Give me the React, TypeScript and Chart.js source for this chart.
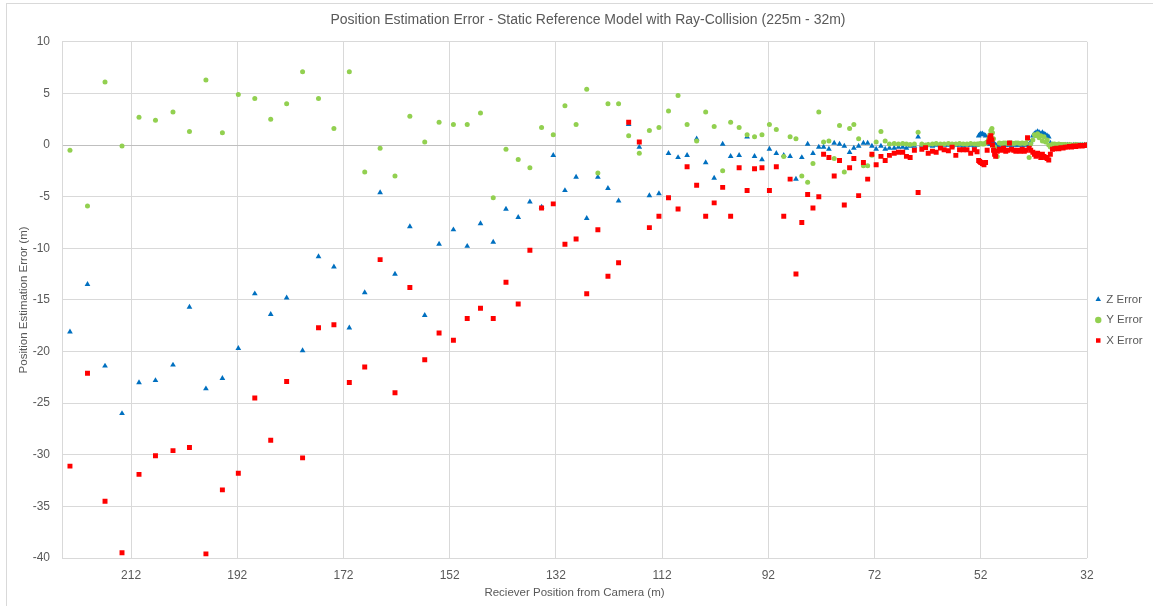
import React, { useEffect, useRef } from "react";
import { Chart, registerables } from "chart.js";

Chart.register(...registerables);

const FONT = "'Liberation Sans', Arial, sans-serif";
const TEXT_COLOR = "#595959";
const GRID_COLOR = "#d9d9d9";
const ZERO_COLOR = "#bfbfbf";

const CHART_TITLE = "Position Estimation Error - Static Reference Model with Ray-Collision (225m - 32m)";
const X_TITLE = "Reciever Position from Camera (m)";
const Y_TITLE = "Position Estimation Error (m)";
const SERIES_NAMES = ["Z Error", "Y Error", "X Error"];
const SERIES_COLORS = ["#0070C0", "#92D050", "#FF0000"];

const X_MIN = 32;
const X_MAX = 225;
const X_TICKS = [212, 192, 172, 152, 132, 112, 92, 72, 52, 32];
const Y_TICKS = [-40, -35, -30, -25, -20, -15, -10, -5, 0, 5, 10];

// Receiver position from camera (m)
const positions = [
  223.5, 220.2, 216.9, 213.7, 210.5, 207.4, 204.1, 201.0, 197.9, 194.8, 191.8, 188.7, 185.7, 182.7, 179.7, 176.7, 173.8, 170.9, 168.0, 165.1, 162.3,
  159.5, 156.7, 154.0, 151.3, 148.7, 146.2, 143.8, 141.4, 139.1, 136.9, 134.7, 132.5, 130.3, 128.2, 126.2, 124.1, 122.2, 120.2, 118.3, 116.3, 114.4, 112.6, 110.8, 109.0, 107.3, 105.5, 103.8, 102.2, 100.6, 99.1, 97.5, 96.0, 94.6, 93.2, 91.8, 90.5,
  89.1, 87.9, 86.8, 85.7, 84.6, 83.6, 82.5, 81.6, 80.6, 79.6, 78.6, 77.7, 76.7, 75.9, 75.0, 74.1, 73.3, 72.5, 71.7, 70.8, 70.0,
  69.2, 68.3, 67.5, 66.7, 66.0, 65.3, 64.5, 63.8, 63.1, 62.4, 61.9, 61.1, 60.4, 59.6, 58.9, 58.1, 57.4, 56.7, 56.0, 55.3, 54.6, 53.9, 53.2, 52.7,
  52.4, 52.2, 52.0, 51.7, 51.4, 51.1, 50.8, 50.5, 50.3, 50.1, 49.9, 49.8, 49.6, 49.4, 49.2, 48.9,
  48.5, 48.1, 47.7, 47.3, 46.9, 46.6, 46.2, 45.8, 45.4, 45.0, 44.6, 44.2, 43.8, 43.5, 43.2,
  42.9, 42.6, 42.2, 41.9, 41.6, 41.3, 41.0, 40.7, 40.4, 40.1, 39.8, 39.5, 39.2, 38.9,
  38.5, 38.1, 37.7, 37.3, 36.9, 36.5, 36.1, 35.7, 35.3, 34.9, 34.5, 34.1, 33.7, 33.3, 32.9, 32.5, 32.1,
];

const zError = [
  -18.1, -13.5, -21.4, -26.0, -23.0, -22.8, -21.3, -15.7, -23.6, -22.6, -19.7, -14.4, -16.4, -14.8, -19.9, -10.8, -11.8, -17.7, -14.3, -4.6, -12.5,
  -7.9, -16.5, -9.6, -8.2, -9.8, -7.6, -9.4, -6.2, -7.0, -5.5, -6.0, -1.0, -4.4, -3.1, -7.1, -3.1, -4.2, -5.4, 2.0, -0.2, -4.9, -4.7, -0.8, -1.2, -1.0, 0.6, -1.7, -3.2, 0.1, -1.1, -1.0, 0.8, -1.1, -1.4, -0.4, -0.8,
  -1.0, -1.1, -3.3, -1.2, 0.1, -0.8, -0.2, -0.2, -0.4, 0.2, 0.1, -0.1, -0.7, -0.3, -0.1, 0.2, 0.2, -0.1, -0.4, -0.1, -0.4,
  -0.3, -0.3, -0.2, -0.2, -0.3, -0.1, -0.1, 0.8, 0.0, -0.1, 0.0, -0.1, 0.0, -0.1, 0.0, 0.0, -0.1, 0.0, 0.0, -0.1, 0.0, 0.0, -0.1, 0.0,
  0.9, 1.0, 1.1, 1.1, 1.0, 0.9, 0.2, 0.2, 0.1, 0.1, 0.1, 0.1, 0.1, 0.1, 0.0, 0.0,
  0.0, 0.05, 0.0, 0.0, 0.05, 0.0, 0.0, 0.05, 0.0, 0.0, 0.05, 0.0, 0.0, 0.05, 0.1,
  0.0, 0.3, 0.9, 1.1, 1.2, 1.3, 1.2, 1.1, 1.2, 1.1, 1.0, 0.9, 0.8, 0.2,
  0.0, 0.0, -0.05, 0.0, 0.0, -0.05, 0.0, 0.0, 0.0, -0.05, 0.0, 0.0, 0.0, 0.0, 0.0, 0.0, 0.0,
];

const yError = [
  -0.5, -5.9, 6.1, -0.1, 2.7, 2.4, 3.2, 1.3, 6.3, 1.2, 4.9, 4.5, 2.5, 4.0, 7.1, 4.5, 1.6, 7.1, -2.6, -0.3, -3.0,
  2.8, 0.3, 2.2, 2.0, 2.0, 3.1, -5.1, -0.4, -1.4, -2.2, 1.7, 1.0, 3.8, 2.0, 5.4, -2.7, 4.0, 4.0, 0.9, -0.8, 1.4, 1.7, 3.3, 4.8, 2.0, 0.4, 3.2, 1.8, -2.5, 2.2, 1.7, 1.0, 0.8, 1.0, 2.0, 1.5,
  -1.1, 0.8, 0.6, -3.0, -3.6, -1.8, 3.2, 0.3, 0.4, -1.3, 1.9, -2.6, 1.6, 2.0, 0.6, -2.0, -2.0, -1.0, 0.3, 1.3, 0.4,
  0.1, 0.15, 0.1, 0.15, 0.1, 0.05, 0.1, 1.25, 0.1, 0.0, 0.05, 0.1, 0.15, 0.1, 0.1, 0.15, 0.1, 0.1, 0.15, 0.1, 0.1, 0.15, 0.1, 0.1,
  0.1, 0.1, 0.15, 0.1, 0.1, 0.2, 0.3, 0.6, 1.0, 1.4, 1.6, 1.2, 0.6, -0.2, -0.4, -1.1,
  0.2, 0.15, 0.2, 0.2, 0.15, 0.2, 0.2, 0.15, 0.2, 0.2, 0.15, 0.2, 0.15, 0.2, 0.6,
  -1.2, 0.1, 0.5, 1.0, 0.9, 1.1, 0.7, 0.9, 0.4, 0.8, 0.3, 0.5, 0.0, -0.2,
  0.1, 0.1, 0.05, 0.1, 0.05, 0.05, 0.05, 0.0, 0.05, 0.0, 0.0, 0.05, 0.0, 0.0, 0.0, 0.0, 0.0,
];

const xError = [
  -31.1, -22.1, -34.5, -39.5, -31.9, -30.1, -29.6, -29.3, -39.6, -33.4, -31.8, -24.5, -28.6, -22.9, -30.3, -17.7, -17.4, -23.0, -21.5, -11.1, -24.0,
  -13.8, -20.8, -18.2, -18.9, -16.8, -15.8, -16.8, -13.3, -15.4, -10.2, -6.1, -5.7, -9.6, -9.1, -14.4, -8.2, -12.7, -11.4, 2.2, 0.3, -8.0, -6.9, -5.1, -6.2, -2.1, -3.9, -6.9, -5.6, -4.1, -6.9, -2.2, -4.4, -2.3, -2.2, -4.4, -2.1,
  -6.9, -3.3, -12.5, -7.5, -4.8, -6.1, -5.0, -0.9, -1.2, -3.0, -1.5, -5.8, -2.2, -1.3, -4.9, -1.7, -3.3, -0.9, -1.9, -1.1, -1.5,
  -1.0, -0.8, -0.7, -0.7, -1.1, -1.2, -0.5, -4.6, -0.4, -0.25, -0.8, -0.6, -0.7, -0.3, -0.45, -0.55, -0.2, -1.0, -0.45, -0.45, -0.45, -0.8, -0.45, -0.65,
  -1.5, -1.6, -1.7, -1.8, -1.9, -1.7, -0.5, 0.3, 0.7, 0.9, 0.5, 0.0, -0.5, -0.9, -1.1, -0.6,
  -0.4, -0.5, -0.3, -0.6, -0.5, 0.2, -0.4, -0.5, -0.6, -0.5, -0.6, -0.4, -0.6, -0.5, 0.7,
  -0.3, -0.5, -0.7, -0.9, -1.1, -0.8, -1.0, -1.2, -0.9, -1.1, -1.2, -1.3, -1.45, -0.9,
  -0.4, -0.35, -0.3, -0.35, -0.25, -0.3, -0.2, -0.2, -0.15, -0.2, -0.1, -0.15, -0.1, -0.05, -0.1, -0.05, 0.0,
];

const CANVAS_W = 1176;
const CANVAS_H = 606;
const Y_AXIS_W = 62;
const X_AXIS_H = 48;
const LEGEND_W = CANVAS_W - 1087;
const LEGEND_SHIFT = 17;

const legendLayout = {
  id: "legendLayout",
  beforeLayout(chart: any) {
    const lg = chart.legend;
    if (lg && !lg.__fixedWidth) {
      const fit = lg.fit.bind(lg);
      lg.fit = () => {
        fit();
        lg.width = LEGEND_W;
      };
      lg.__fixedWidth = true;
    }
  },
  afterLayout(chart: any) {
    const lg = chart.legend;
    if (lg) {
      lg.top += LEGEND_SHIFT;
      lg.bottom += LEGEND_SHIFT;
    }
  },
};

export default function App() {
  const canvasRef = useRef<HTMLCanvasElement>(null);

  useEffect(() => {
    const canvas = canvasRef.current;
    if (!canvas) return;
    const toPoints = (ys: number[]) => positions.map((x, i) => ({ x, y: ys[i] }));
    const seriesValues = [zError, yError, xError];
    const styles = ["triangle", "circle", "rect"];
    const radii = [3.3, 2.5, 3.5];

    const chart = new Chart(canvas, {
      type: "scatter",
      data: {
        datasets: SERIES_NAMES.map((name, i) => ({
          label: name,
          data: toPoints(seriesValues[i]),
          pointStyle: styles[i] as any,
          pointRadius: radii[i],
          pointHoverRadius: radii[i],
          backgroundColor: SERIES_COLORS[i],
          borderColor: SERIES_COLORS[i],
          borderWidth: 0,
          pointBorderWidth: 0,
          showLine: false,
          order: 3 - i,
        })),
      },
      options: {
        responsive: false,
        animation: false,
        layout: { autoPadding: false, padding: 0 },
        plugins: {
          title: {
            display: true,
            text: CHART_TITLE,
            color: TEXT_COLOR,
            font: { family: FONT, size: 14, weight: "normal" },
            padding: { top: 12, bottom: 13 },
          },
          legend: {
            position: "right",
            labels: {
              usePointStyle: true,
              boxWidth: 4.5,
              boxHeight: 4.5,
              color: TEXT_COLOR,
              font: { family: FONT, size: 11.5 },
              padding: 9,
              sort: (a: any, b: any) => a.datasetIndex - b.datasetIndex,
            },
          },
          tooltip: { enabled: false },
        },
        scales: {
          x: {
            type: "linear",
            reverse: true,
            min: X_MIN,
            max: X_MAX,
            afterBuildTicks: (s: any) => {
              s.ticks = X_TICKS.map((v) => ({ value: v }));
            },
            afterFit: (s: any) => {
              s.height = X_AXIS_H;
            },
            grid: { color: GRID_COLOR, drawTicks: false },
            border: { display: false },
            ticks: {
              color: TEXT_COLOR,
              font: { family: FONT, size: 12 },
              padding: 10,
              autoSkip: false,
              maxRotation: 0,
            },
            title: {
              display: true,
              text: X_TITLE,
              color: TEXT_COLOR,
              font: { family: FONT, size: 11.5 },
              padding: { top: 0, bottom: 6.5 },
            },
          },
          y: {
            type: "linear",
            min: -40,
            max: 10,
            afterBuildTicks: (s: any) => {
              s.ticks = Y_TICKS.map((v) => ({ value: v }));
            },
            afterFit: (s: any) => {
              s.width = Y_AXIS_W;
            },
            grid: {
              color: (ctx: any) => (ctx.tick && ctx.tick.value === 0 ? ZERO_COLOR : GRID_COLOR),
              drawTicks: false,
            },
            border: { color: GRID_COLOR },
            ticks: {
              color: TEXT_COLOR,
              font: { family: FONT, size: 12 },
              padding: 12,
            },
            title: {
              display: true,
              text: Y_TITLE,
              color: TEXT_COLOR,
              font: { family: FONT, size: 11.5 },
              padding: { top: 17, bottom: 0 },
            },
          },
        },
      },
      plugins: [legendLayout],
    });

    return () => chart.destroy();
  }, []);

  return (
    <div
      style={{
        position: "fixed",
        left: 0,
        top: 0,
        width: 1153,
        height: 606,
        overflow: "hidden",
        background: "#ffffff",
      }}
    >
      <div
        style={{
          position: "absolute",
          left: 6,
          top: 3,
          width: 1300,
          height: 800,
          border: "1px solid #d9d9d9",
        }}
      />
      <canvas
        ref={canvasRef}
        width={CANVAS_W}
        height={CANVAS_H}
        style={{ position: "absolute", left: 0, top: 0, width: CANVAS_W, height: CANVAS_H }}
      />
    </div>
  );
}
